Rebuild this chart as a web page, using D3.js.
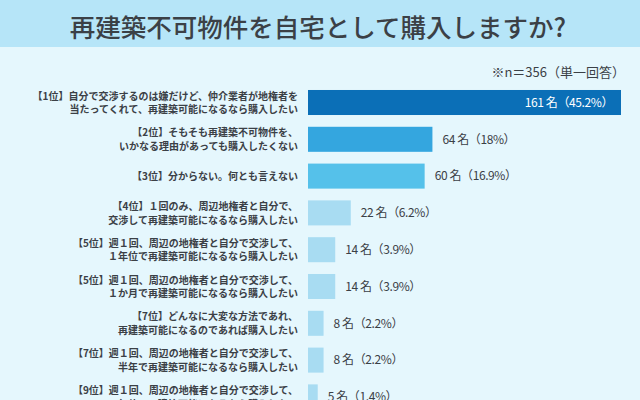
<!DOCTYPE html>
<html>
<head>
<meta charset="utf-8">
<script src="https://cdn.jsdelivr.net/npm/d3@7"></script>
<style>
  html, body { margin: 0; padding: 0; background: #e5f7fd; overflow: hidden; }
  svg { display: block; font-family: "Noto Sans CJK JP", "Noto Sans", sans-serif; }
</style>
</head>
<body>
<script>
const width = 640;
const height = 400;

const title = "再建築不可物件を自宅として購入しますか?";
const note = "※n＝356（単一回答）";

const ranks = ["1位", "2位", "3位", "4位", "5位", "5位", "7位", "7位", "9位"];
const line1 = [
    "自分で交渉するのは嫌だけど、仲介業者が地権者を",
    "そもそも再建築不可物件を、",
    "分からない。何とも言えない",
    "１回のみ、周辺地権者と自分で、",
    "週１回、周辺の地権者と自分で交渉して、",
    "週１回、周辺の地権者と自分で交渉して、",
    "どんなに大変な方法であれ、",
    "週１回、周辺の地権者と自分で交渉して、",
    "週１回、周辺の地権者と自分で交渉して、"
];
const line2 = [
    "当たってくれて、再建築可能になるなら購入したい",
    "いかなる理由があっても購入したくない",
    "",
    "交渉して再建築可能になるなら購入したい",
    "１年位で再建築可能になるなら購入したい",
    "１か月で再建築可能になるなら購入したい",
    "再建築可能になるのであれば購入したい",
    "半年で再建築可能になるなら購入したい",
    "２年位で再建築可能になるなら購入したい"
];
const counts = [161, 64, 60, 22, 14, 14, 8, 8, 5];
const percents = ["45.2%", "18%", "16.9%", "6.2%", "3.9%", "3.9%", "2.2%", "2.2%", "1.4%"];
const barColors = ["#0b6fb7", "#34a6df", "#55c1ea", "#a8dcf2"];

const textColor = "#3b4046";

const svg = d3.select("body").append("svg")
    .attr("width", width)
    .attr("height", height);

// header band
svg.append("rect")
    .attr("x", 0).attr("y", 0)
    .attr("width", width).attr("height", 47)
    .attr("fill", "#b6e5f8");

svg.append("text")
    .attr("x", width / 2 - 2)
    .attr("y", 37)
    .attr("text-anchor", "middle")
    .attr("font-size", 25.5)
    .attr("font-weight", 500)
    .attr("fill", textColor)
    .text(title);

svg.append("text")
    .attr("x", 625)
    .attr("y", 77)
    .attr("text-anchor", "end")
    .attr("font-size", 13)
    .attr("fill", textColor)
    .text(note);

const x = d3.scaleLinear()
    .domain([0, d3.max(counts)])
    .range([308, 621]);

const y = d3.scaleBand()
    .domain(d3.range(counts.length))
    .range([84.1, 84.1 + 36.8 * counts.length])
    .paddingInner(0.32)
    .paddingOuter(0.16);

const rows = svg.selectAll(".row")
    .data(counts.map((c, i) => ({ i, c })))
    .join("g")
    .attr("class", "row");

rows.append("rect")
    .attr("x", x(0))
    .attr("y", d => y(d.i))
    .attr("width", d => x(d.c) - x(0))
    .attr("height", y.bandwidth())
    .attr("fill", d => barColors[Math.min(d.i, 3)]);

// category labels, one text per line
rows.each(function(d) {
    const g = d3.select(this);
    const cy = y(d.i) + y.bandwidth() / 2;
    const lines = line2[d.i]
        ? ["【" + ranks[d.i] + "】" + line1[d.i], line2[d.i]]
        : ["【" + ranks[d.i] + "】" + line1[d.i]];
    const offs = lines.length === 2 ? [-2.9, 10.6] : [3.7];
    lines.forEach((s, k) => {
        g.append("text")
            .attr("x", 298)
            .attr("y", cy + offs[k])
            .attr("text-anchor", "end")
            .attr("font-size", 10)
            .attr("font-weight", 700)
            .attr("fill", textColor)
            .text(s);
    });
});

// value labels
rows.append("text")
    .attr("x", d => d.i === 0 ? x(d.c) - 8 : x(d.c) + 10)
    .attr("y", d => y(d.i) + y.bandwidth() / 2 + 4.3)
    .attr("text-anchor", d => d.i === 0 ? "end" : "start")
    .attr("font-size", 12)
    .attr("letter-spacing", -0.4)
    .attr("fill", d => d.i === 0 ? "#ffffff" : textColor)
    .text(d => d.c + " 名（" + percents[d.i] + "）");
</script>
</body>
</html>
